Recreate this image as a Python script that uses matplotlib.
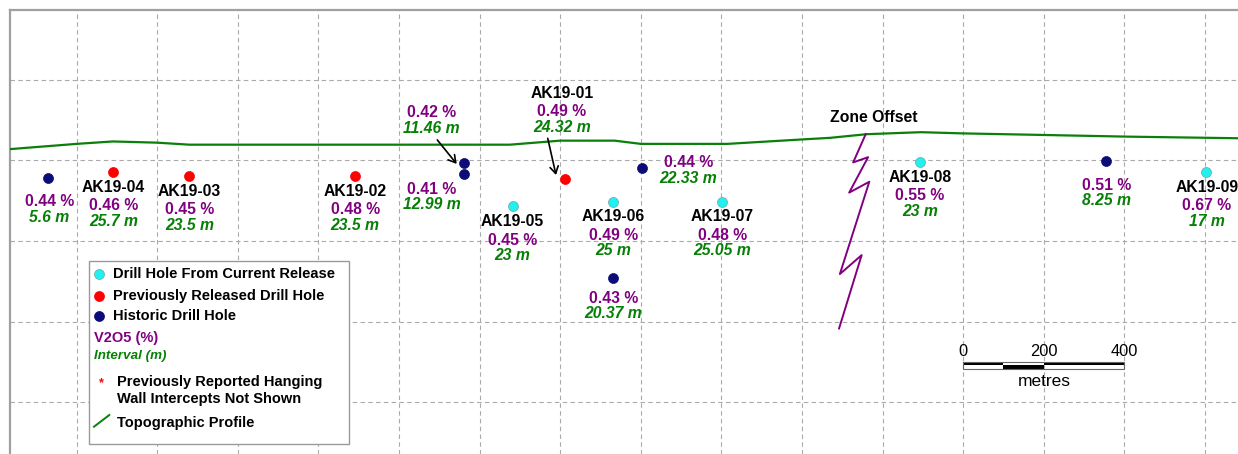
import matplotlib
matplotlib.use("Agg")
import matplotlib.pyplot as plt
from matplotlib.transforms import Affine2D, offset_copy
from matplotlib.patches import Rectangle

plt.rcParams['font.family'] = ['Liberation Sans', 'DejaVu Sans']

# drill hole intercepts on the long section (metres along section, elevation in m)
hole_names = ['', 'AK19-04', 'AK19-03', 'AK19-02', '', '', 'AK19-01', '',
              'AK19-05', 'AK19-06', 'AK19-07', '', 'AK19-08', '', 'AK19-09']
hole_type = ['hist', 'prev', 'prev', 'prev', 'hist', 'hist', 'prev', 'hist',
             'curr', 'curr', 'curr', 'hist', 'curr', 'hist', 'curr']
hole_x = [-70, 91, 280, 691, 962, 962, 1212, 1402, 1082, 1332, 1602, 1332, 2093, 2554, 2803]
hole_y = [157, 170, 162, 162, 193, 166, 153, 182, 87, 96, 96, -93, 197, 199, 172]
v2o5 = [0.44, 0.46, 0.45, 0.48, 0.42, 0.41, 0.49, 0.44, 0.45, 0.49, 0.48, 0.43, 0.55, 0.51, 0.67]
interval = [5.6, 25.7, 23.5, 23.5, 11.46, 12.99, 24.32, 22.33, 23, 25, 25.05, 20.37, 23, 8.25, 17]

# topographic profile
topo_x = [-165, 0, 90, 200, 280, 1075, 1200, 1335, 1400, 1615, 1800, 1870, 1960,
          2095, 2200, 2405, 2605, 2880]
topo_y = [228, 241, 247, 244, 239, 239, 249, 249, 241, 241, 252, 256, 265,
          270, 267, 263, 259, 255]

# zone offset fault trace
fault_x = [1958, 1927, 1964, 1917, 1967, 1894, 1948, 1892]
fault_y = [265, 195, 208, 120, 147, -82, -35, -217]

scale_ticks = [0, 200, 400]

colors = {'curr': '#22f0f0', 'prev': '#ff0000', 'hist': '#0c0c78'}
purple = '#800080'
green = '#068006'

# label placement: offset of first text line from the dot (pixels, down is +)
label_off = [(1, 24), (0, 15), (0, 15.3), (0, 15.3), (-32.6, -50.6), (-32.6, 15.3),
             (-3.3, -86), (46.6, -5), (0, 15.7), (0, 14.4), (0, 14.4), (0, 20),
             (0, 15.6), (0.3, 24.3), (0.7, 15.6)]
# leader arrows: hole index -> (start offset, tip offset) in pixels, up is +
arrows = {4: ((-27, 23.3), (-7.6, -0.7)), 6: ((-17.3, 41), (-9, 4.3))}

W, H = 1238, 454
m_per_px = 200 / 80.6
fig = plt.figure(figsize=(W / 100, H / 100), dpi=100)
ax = fig.add_axes([10 / W, 0, (W - 10) / W, (H - 10) / H])
ax.set_xlim((10 - 76.6) * m_per_px, (W - 76.6) * m_per_px)
ax.set_ylim((241 - H) * m_per_px, (241 - 10) * m_per_px)

ax.set_xticks(range(0, 2801, 200))
ax.set_yticks(range(-400, 401, 200))
ax.tick_params(length=0, labelbottom=False, labelleft=False)
ax.grid(True, color='#aaaaaa', linestyle=(0, (4, 3)), linewidth=0.8)
for s in ['right', 'bottom']:
    ax.spines[s].set_visible(False)
for s in ['left', 'top']:
    ax.spines[s].set_color('#a0a0a0')
    ax.spines[s].set_linewidth(1.6)

ax.plot(topo_x, topo_y, color='#0a800a', lw=1.6, zorder=3)
ax.plot(fault_x, fault_y, color=purple, lw=1.4, zorder=3)
ax.text(1978, 306, 'Zone Offset', ha='center', va='center', fontsize=11.3,
        fontweight='bold', color='black')

for i in range(len(hole_x)):
    ec = '#6aa8a8' if hole_type[i] == 'curr' else colors[hole_type[i]]
    ax.plot(hole_x[i], hole_y[i], 'o', ms=7.2, color=colors[hole_type[i]],
            mec=ec, mew=0.5, zorder=5)
    lines = []
    if hole_names[i]:
        lines.append((hole_names[i], 'black', 'normal', 0))
    lines.append(('{:.2f} %'.format(v2o5[i]), purple, 'normal', 18.5 if hole_names[i] else 0))
    lines.append(('{:g} m'.format(interval[i]), green, 'italic', 15.5))
    dx, dy = label_off[i]
    for txt, c, st, step in lines:
        dy += step
        ax.annotate(txt, (hole_x[i], hole_y[i]), xytext=(dx, -dy),
                    textcoords='offset pixels', ha='center', va='center',
                    fontsize=11.3, fontweight='bold', color=c, style=st, zorder=6)

for i, (start, tip) in arrows.items():
    ax.annotate('', xy=(hole_x[i], hole_y[i]),
                xycoords=offset_copy(ax.transData, fig=fig, x=tip[0], y=tip[1], units='dots'),
                xytext=(hole_x[i], hole_y[i]),
                textcoords=offset_copy(ax.transData, fig=fig, x=start[0], y=start[1], units='dots'),
                arrowprops=dict(arrowstyle='->,head_length=0.5,head_width=0.3',
                                color='black', lw=1.2, shrinkA=0, shrinkB=0))

# scale bar
x0 = 2200
yb, ym, yt = -318.4, -308.9, -299.5
for a, b, lo in [(0, 100, ym), (100, 200, yb), (200, 400, ym)]:
    ax.add_patch(Rectangle((x0 + a, lo), b - a, ym - yb, color='black', lw=0, zorder=4))
ax.add_patch(Rectangle((x0, yb), 400, yt - yb, fill=False, ec='#666666', lw=0.8, zorder=4))
for t in scale_ticks:
    ax.text(x0 + t, -274.5, str(t), ha='center', va='center', fontsize=11.8)
ax.text(x0 + 200, -347.4, 'metres', ha='center', va='center', fontsize=12.5)

# legend box drawn in pixel coordinates (top-left origin)
pix = Affine2D().scale(1, -1).translate(0, H)
fig.patches.append(Rectangle((89.3, 260.7), 260, 183.3, transform=pix, fc='white',
                             ec='#9a9a9a', lw=1.0, zorder=10))
leg_items = [('curr', 'Drill Hole From Current Release', 274),
             ('prev', 'Previously Released Drill Hole', 295.7),
             ('hist', 'Historic Drill Hole', 315.7)]
for k, label, y in leg_items:
    ec = '#6aa8a8' if k == 'curr' else colors[k]
    fig.add_artist(plt.Line2D([99], [y], marker='o', ms=7.2, color=colors[k], mec=ec,
                              mew=0.5, transform=pix, zorder=11))
    fig.text(113.3, y, label, transform=pix, ha='left', va='center', fontsize=10.5,
             fontweight='bold', zorder=11)
fig.text(94, 338.3, 'V2O5 (%)', transform=pix, ha='left', va='center', fontsize=10.5,
         fontweight='bold', color=purple, zorder=11)
fig.text(94, 356, 'Interval (m)', transform=pix, ha='left', va='center', fontsize=9.6,
         fontweight='bold', style='italic', color=green, zorder=11)
fig.text(101, 383, '*', transform=pix, ha='center', va='center', fontsize=9,
         fontweight='bold', color='red', zorder=11)
fig.text(116.7, 381.7, 'Previously Reported Hanging', transform=pix, ha='left',
         va='center', fontsize=10.5, fontweight='bold', zorder=11)
fig.text(116.7, 399, 'Wall Intercepts Not Shown', transform=pix, ha='left',
         va='center', fontsize=10.5, fontweight='bold', zorder=11)
fig.add_artist(plt.Line2D([94, 109.3], [426.7, 415], color='#0a800a', lw=1.4,
                          transform=pix, zorder=11))
fig.text(116.7, 422.7, 'Topographic Profile', transform=pix, ha='left', va='center',
         fontsize=10.5, fontweight='bold', zorder=11)

fig.savefig('out.png', dpi=100)
